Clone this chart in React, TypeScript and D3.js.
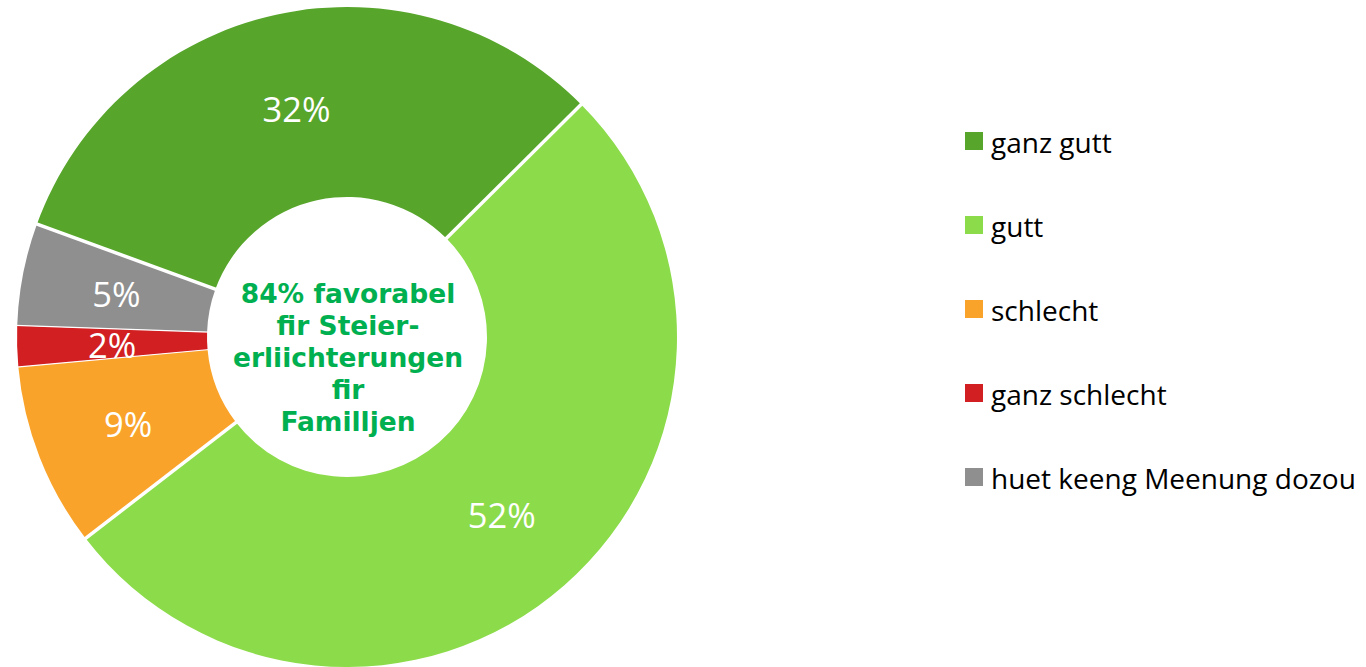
import React from "react";
import * as d3 from "d3";

const categories = ["ganz gutt", "gutt", "schlecht", "ganz schlecht", "huet keeng Meenung dozou"];
const values = [32, 52, 9, 2, 5];
const colors = ["#57A62B", "#8CDB4A", "#F9A32A", "#D21F21", "#8F8F8F"];
const centerLines = ["84% favorabel", "fir Steier-", "erliichterungen", "fir", "Familljen"];

const W = 1366;
const H = 667;
const CX = 347;
const CY = 337;
const R_OUT = 330;
const R_IN = 140;
const START_DEG = 290;

export default function App() {
  const start = (START_DEG * Math.PI) / 180;
  const pie = d3
    .pie<number>()
    .sort(null)
    .value((d) => d)
    .startAngle(start)
    .endAngle(start + 2 * Math.PI);
  const arcs = pie(values);
  const arc = d3.arc<d3.PieArcDatum<number>>().innerRadius(R_IN).outerRadius(R_OUT);
  const labelArc = d3
    .arc<d3.PieArcDatum<number>>()
    .innerRadius((R_IN + R_OUT) / 2)
    .outerRadius((R_IN + R_OUT) / 2);

  const isGreen = (i: number) => i === 0 || i === 1;
  const n = arcs.length;

  const legendY = d3.scalePoint<string>().domain(categories).range([132, 468]);

  return (
    <svg
      width={W}
      height={H}
      style={{ position: "absolute", left: 0, top: 0, display: "block", background: "#fff" }}
    >
      <g transform={`translate(${CX},${CY})`}>
        {arcs.map((a, i) => (
          <path key={i} d={arc(a) || ""} fill={colors[i]} />
        ))}
        {arcs.map((a, i) => {
          const prev = (i - 1 + n) % n;
          const thick = isGreen(i) || isGreen(prev);
          const ang = a.startAngle;
          const x1 = Math.sin(ang) * (R_IN - 2);
          const y1 = -Math.cos(ang) * (R_IN - 2);
          const x2 = Math.sin(ang) * (R_OUT + 2);
          const y2 = -Math.cos(ang) * (R_OUT + 2);
          return (
            <line
              key={"s" + i}
              x1={x1}
              y1={y1}
              x2={x2}
              y2={y2}
              stroke="#fff"
              strokeWidth={thick ? 3.5 : 1.2}
            />
          );
        })}
        {arcs.map((a, i) => {
          const [x, y] = labelArc.centroid(a);
          return (
            <text
              key={"l" + i}
              x={x}
              y={y}
              dy="0.42em"
              textAnchor="middle"
              fill="#fff"
              fontFamily="'Open Sans', sans-serif"
              fontSize={34.5}
            >
              {values[i]}%
            </text>
          );
        })}
        <text
          textAnchor="middle"
          fill="#00B050"
          fontFamily="'DejaVu Sans', Verdana, sans-serif"
          fontWeight="bold"
          fontSize={26.5}
        >
          {centerLines.map((t, i) => (
            <tspan key={i} x={1} y={303 - CY + i * 32.1}>
              {t}
            </tspan>
          ))}
        </text>
      </g>
      <g>
        {categories.map((c, i) => {
          const y = legendY(c) as number;
          return (
            <g key={c}>
              <rect x={965} y={y} width={18} height={18} fill={colors[i]} />
              <text
                x={991}
                y={y + 21}
                fill="#000"
                fontFamily="'Open Sans', sans-serif"
                fontSize={28}
              >
                {c}
              </text>
            </g>
          );
        })}
      </g>
    </svg>
  );
}
